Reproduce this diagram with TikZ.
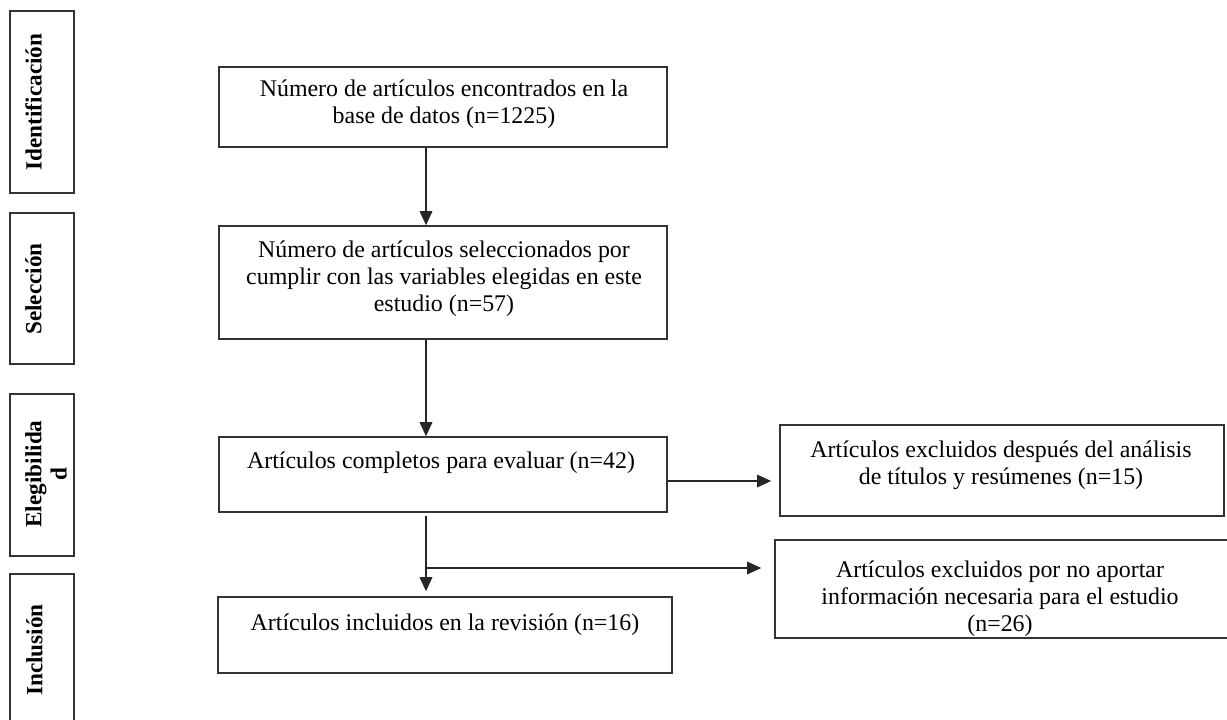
\documentclass[tikz,border=0pt]{standalone}
\usepackage{fontspec}
\setmainfont{Liberation Serif}
\usetikzlibrary{arrows.meta}

\begin{document}
\begin{tikzpicture}
            [x=0.025cm,y=-0.025cm,
             box/.style={draw=black!80,line width=1.1pt,inner sep=0pt},
             txt/.style={anchor=north,inner sep=0pt,align=center,font=\fontsize{17}{19.2}\selectfont},
             side/.style={anchor=north,inner sep=0pt,align=center,rotate=90,font=\fontsize{16.5}{18}\selectfont\bfseries},
             arr/.style={draw=black!85,line width=0.9pt,-{Triangle[length=10pt,width=9pt]}}]
            \clip (0,0) rectangle (1227,719);
            \fill[white] (0,0) rectangle (1227,719);
            %
            \node[box,minimum width=1.6cm,minimum height=4.55cm] (s1) at (42,102) {};
            \node[box,minimum width=1.6cm,minimum height=3.775cm] (s2) at (42,288.5) {};
            \node[box,minimum width=1.6cm,minimum height=4.05cm] (s3) at (42,475) {};
            \node[box,minimum width=1.6cm,minimum height=3.8cm] (s4) at (42,650) {};
            \node[side] (l1) at (25,102) {Identificación};
            \node[side] (l2) at (25,289) {Selección};
            \node[side] (l3) at (25,474) {Elegibilida\\d};
            \node[side] (l4) at (26,650) {Inclusión};
            %
            \node[box,minimum width=11.2cm,minimum height=2cm] (b1) at (443,107) {};
            \node[box,minimum width=11.2cm,minimum height=2.825cm] (b2) at (443,282.5) {};
            \node[box,minimum width=11.2cm,minimum height=1.875cm] (b3) at (443,474.5) {};
            \node[box,minimum width=11.35cm,minimum height=1.9cm] (b4) at (445,635) {};
            \node[box,minimum width=11.1cm,minimum height=2.275cm] (bA) at (1002,470.5) {};
            \node[box,minimum width=11.35cm,minimum height=2.45cm] (bB) at (1002,589) {};
            %
            \node[txt] (t1) at (444,80) {Número de artículos encontrados en la\\base de datos (n=1225)};
            \node[txt] (t2) at (444,241) {Número de artículos seleccionados por\\cumplir con las variables elegidas en este\\estudio (n=57)};
            \node[txt] (t3) at (441,452) {Artículos completos para evaluar (n=42)};
            \node[txt] (t4) at (445,614) {Artículos incluidos en la revisión (n=16)};
            \node[txt] (tA) at (1001,441) {Artículos excluidos después del análisis\\de títulos y resúmenes (n=15)};
            \node[txt] (tB) at (1000,561) {Artículos excluidos por no aportar\\información necesaria para el estudio\\(n=26)};
            %
            \coordinate (axis) at (426,0);
            \coordinate (rowA) at (0,481);
            \coordinate (j) at (426,568);
            \draw[arr] (b1.south -| axis) -- (b2.north -| axis);
            \draw[arr] (b2.south -| axis) -- (b3.north -| axis);
            \draw[arr,shorten <=0.075cm,shorten >=0.125cm] (b3.south -| axis) -- (b4.north -| axis);
            \draw[arr,shorten >=0.2cm] (b3.east |- rowA) -- (bA.west |- rowA);
            \draw[arr,shorten >=0.325cm] (j) -- (j -| bB.west);
        \end{tikzpicture}
\end{document}
